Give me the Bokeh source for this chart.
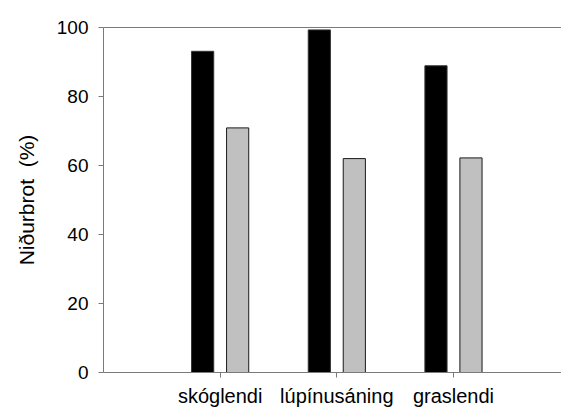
from bokeh.plotting import figure
from bokeh.models import Range1d, FixedTicker, LinearAxis, ColumnDataSource
from bokeh.embed import file_html
from bokeh.resources import INLINE

categories = ["skóglendi", "lúpínusáning", "graslendi"]
black_values = [93.1, 99.3, 88.9]
gray_values = [70.9, 62.0, 62.2]
y_ticks = [0, 20, 40, 60, 80, 100]
y_label = "Niðurbrot\u00a0 (%)"

FONT = "Liberation Sans"
AXIS_COLOR = "#7a7a7a"

idx = [i + 1 for i in range(len(categories))]
offset = 0.15
bw = 0.19

p = figure(width=561, height=409, output_backend="svg", toolbar_location=None,
           x_range=Range1d(0, 3.926), y_range=Range1d(0, 100),
           min_border_left=103, min_border_right=0, min_border_top=27, min_border_bottom=37,
           x_axis_location=None, y_axis_location=None)
p.outline_line_color = None
p.xgrid.visible = False
p.ygrid.visible = False
p.background_fill_color = "white"
p.border_fill_color = "white"

src_b = ColumnDataSource(dict(x=[i - offset for i in idx], top=black_values))
src_g = ColumnDataSource(dict(x=[i + offset for i in idx], top=gray_values))
p.vbar(x="x", top="top", width=bw, bottom=0, source=src_b,
       fill_color="black", line_color="#333333", line_width=1)
p.vbar(x="x", top="top", width=bw, bottom=0, source=src_g,
       fill_color="#c0c0c0", line_color="#1a1a1a", line_width=1)

yax = LinearAxis(ticker=FixedTicker(ticks=y_ticks), axis_label=y_label)
yax.axis_line_color = AXIS_COLOR
yax.major_tick_line_color = AXIS_COLOR
yax.major_tick_out = 5
yax.major_tick_in = 0
yax.minor_tick_line_color = None
yax.major_label_text_font = FONT
yax.major_label_text_font_size = "19px"
yax.major_label_text_color = "black"
yax.major_label_standoff = 10
yax.axis_label_text_font = FONT
yax.axis_label_text_font_size = "21px"
yax.axis_label_text_font_style = "normal"
yax.axis_label_text_color = "black"
yax.axis_label_standoff = 16
p.add_layout(yax, "left")

xax = LinearAxis(ticker=FixedTicker(ticks=idx),
                 major_label_overrides={i: c for i, c in zip(idx, categories)})
xax.axis_line_color = AXIS_COLOR
xax.major_tick_line_color = AXIS_COLOR
xax.major_tick_out = 5
xax.major_tick_in = 0
xax.minor_tick_line_color = None
xax.major_label_text_font = FONT
xax.major_label_text_font_size = "20px"
xax.major_label_text_color = "black"
xax.major_label_standoff = 7
p.add_layout(xax, "below")

top = LinearAxis(ticker=FixedTicker(ticks=[]))
top.axis_line_color = AXIS_COLOR
top.major_label_text_font_size = "0px"
top.minor_tick_line_color = None
top.major_tick_line_color = None
p.add_layout(top, "above")

open("out.html", "w").write(file_html(p, INLINE))
